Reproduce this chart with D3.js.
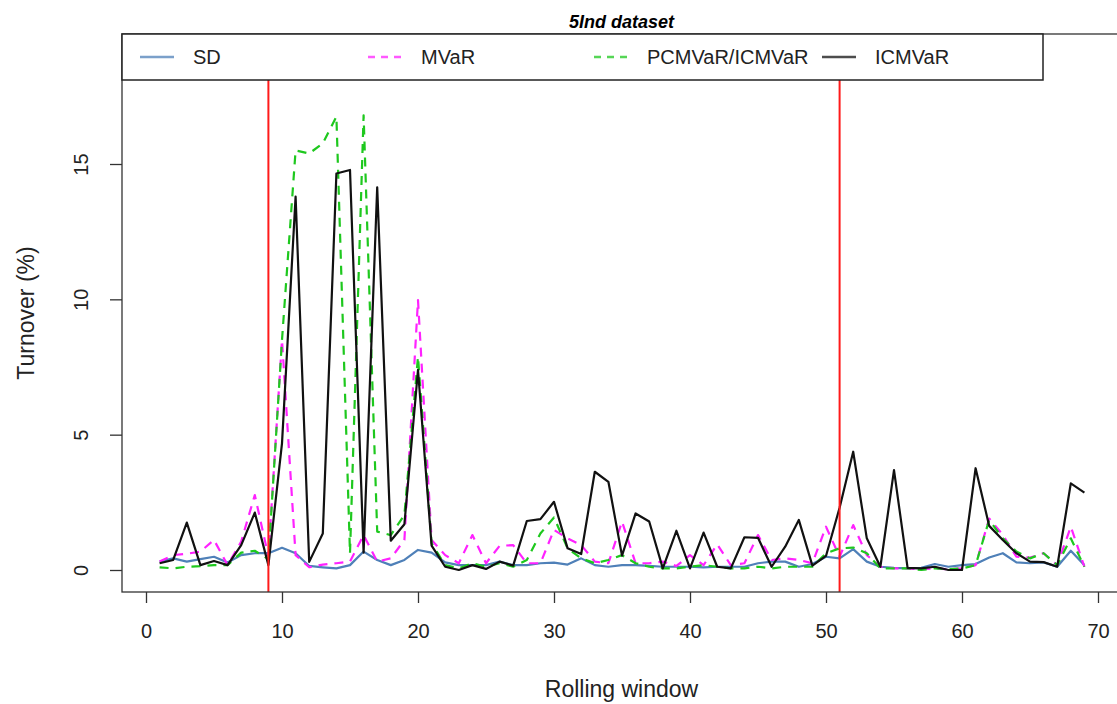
<!DOCTYPE html>
<html>
<head>
<meta charset="utf-8">
<script src="https://cdn.jsdelivr.net/npm/d3@7"></script>
<style>
  body { margin: 0; background: #fff; }
  text { font-family: "Liberation Sans", Arial, sans-serif; }
</style>
</head>
<body>
<div id="chart"></div>
<script>
// rolling windows 1..69
var windows = d3.range(1, 70)

var sdVals = [0.31,0.43,0.31,0.4,0.49,0.28,0.55,0.62,0.62,0.82,0.62,0.15,0.1,0.06,0.18,0.68,0.37,0.18,0.37,0.74,
  0.64,0.28,0.18,0.18,0.18,0.31,0.18,0.18,0.25,0.27,0.2,0.43,0.18,0.12,0.18,0.18,0.15,0.12,0.12,0.12,
  0.1,0.12,0.12,0.12,0.25,0.31,0.31,0.12,0.22,0.49,0.43,0.77,0.31,0.12,0.08,0.06,0.08,0.22,0.12,0.18,
  0.22,0.46,0.62,0.28,0.25,0.28,0.12,0.71,0.18]

var mvarVals = [0.31,0.55,0.6,0.68,1.11,0.18,1.05,2.77,0.5,8.5,0.55,0.1,0.2,0.25,0.31,1.29,0.31,0.43,1.11,9.97,
  1.11,0.55,0.25,1.29,0.25,0.89,0.92,0.25,0.25,1.48,1.17,0.92,0.31,0.25,1.79,0.25,0.25,0.31,0.15,0.55,
  0.18,0.95,0.18,0.25,1.29,0.37,0.43,0.37,0.25,1.6,0.49,1.66,0.55,0.12,0.06,0.06,0.03,0.06,0.03,0.06,
  0.18,1.9,1.3,0.49,0.46,0.62,0.18,1.6,0.12]

var pcmvarVals = [0.1,0.06,0.12,0.14,0.18,0.18,0.64,0.71,0.4,8.5,15.5,15.39,15.76,16.75,0.62,16.8,1.42,1.29,2.03,7.88,
  0.98,0.18,0.06,0.25,0.12,0.25,0.12,0.37,1.35,1.94,0.8,0.43,0.25,0.37,0.55,0.25,0.12,0.06,0.06,0.12,
  0.18,0.12,0.06,0.06,0.12,0.06,0.12,0.12,0.12,0.62,0.8,0.83,0.62,0.06,0.06,0.06,0.0,0.06,0.03,0.06,
  0.18,1.85,1.17,0.68,0.43,0.62,0.18,1.17,0.12]

var icmvarVals = [0.25,0.37,1.75,0.18,0.33,0.18,0.92,2.12,0.18,4.68,13.8,0.3,1.35,14.65,14.78,0.64,14.14,1.08,1.69,7.39,
  0.9,0.12,0.0,0.18,0.04,0.31,0.16,1.81,1.88,2.52,0.8,0.59,3.63,3.26,0.53,2.09,1.79,0.06,1.45,0.06,
  1.38,0.12,0.06,1.21,1.19,0.12,0.86,1.85,0.16,0.52,2.3,4.37,1.17,0.12,3.69,0.08,0.06,0.12,0.0,0.0,
  3.76,1.63,1.11,0.62,0.31,0.29,0.12,3.2,2.86]

var seriesNames = ["SD","MVaR","PCMVaR/ICMVaR","ICMVaR"]
var breakWindows = [9, 51]
var xTicks = [0,10,20,30,40,50,60,70]
var yTicks = [0,5,10,15]

var width = 1117
var height = 704
var box = {left:122, right:1121, top:34, bottom:592}

const svg = d3.select('#chart').append('svg')
  .attr("width",width)
  .attr("height",height)

const x = d3.scaleLinear().domain([0,70]).range([146,1098])
const y = d3.scaleLinear().domain([0,15]).range([570,164])

// series styles
const styles = [
  {vals:sdVals, color:"#4f80b8", dash:null},
  {vals:mvarVals, color:"#ff22ff", dash:"9,7"},
  {vals:pcmvarVals, color:"#1ec81e", dash:"9,7"},
  {vals:icmvarVals, color:"#111111", dash:null}
]

const line = d3.line()
  .x((d,i)=>x(windows[i]))
  .y(d=>y(d))

svg.append("g")
  .selectAll("path")
  .data(styles)
  .enter()
  .append("path")
  .attr("d",d=>line(d.vals))
  .attr("fill","none")
  .attr("stroke",d=>d.color)
  .attr("stroke-width",2.2)
  .attr("stroke-dasharray",d=>d.dash)
  .attr("stroke-linejoin","round")

// vertical red lines
svg.append("g")
  .selectAll("line")
  .data(breakWindows)
  .enter()
  .append("line")
  .attr("x1",d=>x(d)).attr("x2",d=>x(d))
  .attr("y1",box.top).attr("y2",box.bottom)
  .attr("stroke","#ff1a1a")
  .attr("stroke-width",2)

// plot box
svg.append("rect")
  .attr("x",box.left).attr("y",box.top)
  .attr("width",box.right-box.left).attr("height",box.bottom-box.top)
  .attr("fill","none")
  .attr("stroke","#333")
  .attr("stroke-width",1.3)

// x axis
const xAxis = svg.append("g")
  .attr("transform","translate(0,"+box.bottom+")")
  .call(d3.axisBottom(x).tickValues(xTicks).tickSize(11).tickPadding(21).tickFormat(d3.format("d")))
xAxis.select(".domain").remove()
xAxis.selectAll("line").attr("stroke","#333").attr("stroke-width",1.3)
xAxis.selectAll("text").attr("font-size",20).attr("fill","#222")
  .style("font-family","'Liberation Sans', Arial, sans-serif")

// y axis
const yAxis = svg.append("g")
  .attr("transform","translate("+box.left+",0)")
  .call(d3.axisLeft(y).tickValues(yTicks).tickSize(12).tickFormat(d3.format("d")))
yAxis.select(".domain").remove()
yAxis.selectAll("line").attr("stroke","#333").attr("stroke-width",1.3)
yAxis.selectAll("text")
  .attr("x",0).attr("dy",0)
  .attr("text-anchor","middle")
  .attr("transform","translate(-34,0) rotate(-90)")
  .attr("font-size",20).attr("fill","#222")
  .style("font-family","'Liberation Sans', Arial, sans-serif")

// axis titles
svg.append("text")
  .attr("x",(box.left+box.right)/2).attr("y",697)
  .attr("text-anchor","middle")
  .attr("font-size",23)
  .attr("fill","#222")
  .text("Rolling window")

svg.append("text")
  .attr("transform","translate(34,"+((box.top+box.bottom)/2)+") rotate(-90)")
  .attr("text-anchor","middle")
  .attr("font-size",23)
  .attr("fill","#222")
  .text("Turnover (%)")

// title
svg.append("text")
  .attr("x",(box.left+box.right)/2).attr("y",28)
  .attr("text-anchor","middle")
  .attr("font-size",18)
  .attr("font-weight","bold")
  .attr("font-style","italic")
  .text("5Ind dataset")

// legend
const legend = svg.append("g")
legend.append("rect")
  .attr("x",box.left).attr("y",box.top)
  .attr("width",1043-box.left).attr("height",46)
  .attr("fill","#fff")
  .attr("stroke","#222")
  .attr("stroke-width",1.5)

const legendX = [140,368,594,822]
const items = legend.selectAll("g.item")
  .data(styles)
  .enter()
  .append("g")
  .attr("transform",(d,i)=>"translate("+legendX[i]+",57)")

items.append("line")
  .attr("x1",0).attr("x2",34)
  .attr("stroke",d=>d.color)
  .attr("stroke-opacity",0.75)
  .attr("stroke-width",2.5)
  .attr("stroke-dasharray",d=>d.dash ? "7,6" : null)

items.append("text")
  .attr("x",53).attr("y",7)
  .attr("font-size",20)
  .attr("fill","#222")
  .text((d,i)=>seriesNames[i])
</script>
</body>
</html>
